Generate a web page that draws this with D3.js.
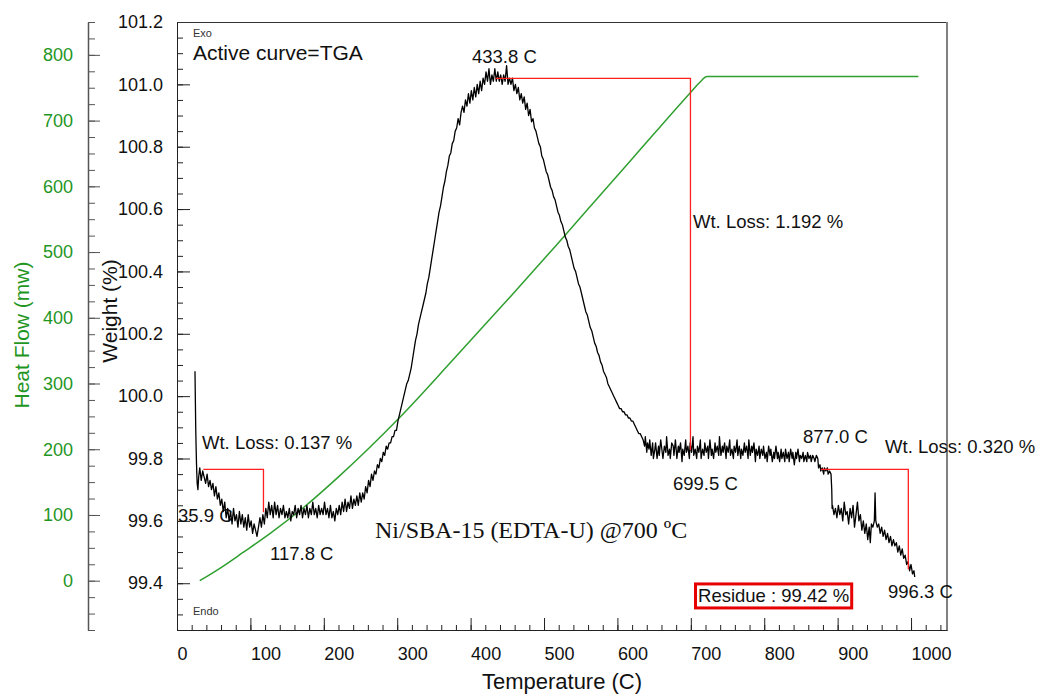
<!DOCTYPE html>
<html><head><meta charset="utf-8">
<script src="https://cdn.jsdelivr.net/npm/d3@7"></script>
<style>
body{margin:0;background:#fff}
</style>
</head><body>
<svg id="c" width="1041" height="696" font-family="'Liberation Sans', Arial, sans-serif"></svg>
<script>
// ---------- data ----------
const tempTicks = [0,100,200,300,400,500,600,700,800,900,1000];
const weightTicks = [99.4,99.6,99.8,100.0,100.2,100.4,100.6,100.8,101.0,101.2];
const heatTicks = [0,100,200,300,400,500,600,700,800];

// TGA weight curve [temperature C, weight %]
const tga = [
[24.5,100.08],[25,99.99],[25.5,99.90],[26,99.84],[26.5,99.79],[27,99.75],[27.5,99.72],[28.5,99.70],[29.5,99.74],[31,99.77],[33,99.73],[35,99.76],
[37,99.74],[39,99.72],[41,99.75],[43,99.71],[45,99.73],[47,99.70],[49,99.72],[51,99.68],[53,99.71],[55,99.67],[57,99.69],[59,99.65],[61,99.67],[63,99.63],[65,99.66],[67,99.61],[69,99.64],[71,99.60],[73,99.63],[75,99.59],[77,99.64],[79,99.60],[81,99.62],[83,99.58],[85,99.63],[87,99.59],[89,99.62],[91,99.58],[93,99.61],[95,99.57],[97,99.62],[99,99.58],[101,99.60],[103,99.56],[105,99.59],[107,99.57],[109,99.55],[111,99.58],[113,99.61],[115,99.58],[117,99.62],[119,99.59],[121,99.64],[123,99.61],[125,99.66],[127,99.62],[129,99.65],[131,99.61],[133,99.66],[135,99.62],[137,99.65],[139,99.61],[141,99.64],[143,99.62],[145,99.65],[147,99.61],[149,99.63],[151,99.61],[153,99.64],[155,99.60],[157,99.63],[159,99.62],[161,99.65],[163,99.61],[165,99.64],[167,99.62],[169,99.65],[171,99.61],[173,99.64],[175,99.62],[177,99.65],[179,99.61],[181,99.64],[183,99.62],[185,99.66],[187,99.62],[189,99.64],[191,99.61],[193,99.65],[195,99.62],[197,99.64],[199,99.62],[201,99.66],[203,99.62],[205,99.64],[207,99.61],[209,99.65],[211,99.61],[213,99.63],[215,99.60],[217,99.64],[219,99.62],[221,99.65],[223,99.62],[225,99.66],[227,99.63],[229,99.67],[231,99.63],[233,99.66],[235,99.64],[237,99.68],[239,99.64],[241,99.67],[243,99.65],[245,99.68],[247,99.65],[249,99.69],[251,99.66],[253,99.69],[255,99.67],[257,99.71],[259,99.69],[261,99.73],[263,99.71],[265,99.75],[267,99.73],[269,99.76],[271,99.75],[273,99.78],[275,99.77],[277,99.80],[279,99.79],[281,99.82],[283,99.81],[285,99.84],[287,99.83],[289,99.85],[291,99.85],[293,99.87],[295,99.87],[297,99.89],[299,99.89],[301,99.92],[303,99.94],[305,99.96],[307,99.98],[309,100.00],[311,100.02],[313,100.04],[315,100.05],[317,100.07],[319,100.09],[321,100.12],
[323,100.15],[325,100.18],[327,100.20],[329,100.23],[331,100.25],[333,100.27],[335,100.29],[337,100.31],[339,100.33],[341,100.36],[343,100.38],[345,100.41],[347,100.44],[349,100.47],[351,100.50],[353,100.53],[355,100.56],[357,100.59],[359,100.61],[361,100.64],[363,100.67],[365,100.69],[367,100.72],[369,100.74],[371,100.77],[373,100.78],[375,100.81],[377,100.82],[379,100.85],[381,100.86],[383,100.89],[385,100.87],[387,100.91],[389,100.93],[391,100.91],[393,100.95],[395,100.93],[397,100.97],[399,100.94],[401,100.98],[403,100.95],[405,100.99],[407,100.96],[409,101.00],[411,100.97],[413,101.01],[415,100.98],[417,101.02],[419,101.00],[421,101.04],[423,101.01],[425,101.05],[427,101.00],[429,101.03],[431,101.01],[433,101.05],[435,101.01],[437,101.04],[439,101.01],[441,101.03],[443,101.00],[445,101.03],[447,101.01],[449,101.06],[451,101.00],[453,101.02],[455,101.00],[457,101.02],[459,100.98],[461,101.00],[463,100.97],[465,100.99],[467,100.95],[469,100.97],[471,100.94],[473,100.96],[475,100.92],[477,100.94],[479,100.90],[481,100.92],[483,100.88],[485,100.89],[487,100.86],[489,100.85],[491,100.83],[493,100.81],[495,100.80],[497,100.77],[499,100.76],[501,100.74],[503,100.72],[505,100.71],[507,100.69],[509,100.67],[511,100.66],[513,100.64],[515,100.63],[517,100.61],[519,100.59],[521,100.58],[523,100.56],[525,100.55],[527,100.53],[529,100.51],[531,100.50],[533,100.48],[535,100.47],[537,100.45],[539,100.43],[541,100.41],[543,100.40],[545,100.38],[547,100.36],[549,100.35],[551,100.33],[553,100.31],[555,100.29],[557,100.27],[559,100.26],[561,100.24],[563,100.22],[565,100.21],[567,100.19],[569,100.17],[571,100.16],[573,100.14],[575,100.13],[577,100.11],[579,100.10],[581,100.08],[583,100.07],[585,100.06],[587,100.04],[589,100.03],[591,100.02],[593,100.01],[595,100.00],[597,99.99],[599,99.98],[601,99.97],[603,99.96],[605,99.96],[607,99.95],[609,99.95],[611,99.94],[613,99.94],[615,99.93],[617,99.93],[619,99.92],[621,99.92],[623,99.91],[625,99.90],[627,99.89],[629,99.88],[631,99.88],[633,99.87],[635,99.86],
[637,99.84],[638,99.87],[640,99.82],[641,99.85],[643,99.83],[644,99.86],[646,99.81],[648,99.85],[649,99.80],[651,99.83],[652,99.85],[654,99.80],[656,99.84],[657,99.81],[659,99.86],[661,99.82],[662,99.80],[664,99.84],[666,99.82],[667,99.87],[669,99.81],[671,99.83],[672,99.80],[674,99.85],[676,99.84],[677,99.81],[679,99.86],[681,99.80],[683,99.84],[684,99.82],[686,99.85],[688,99.79],[689,99.83],[691,99.81],[693,99.86],[694,99.82],[696,99.84],[698,99.80],[699,99.85],[701,99.82],[703,99.87],[704,99.81],[706,99.83],[708,99.80],[709,99.84],[711,99.82],[713,99.86],[714,99.80],[716,99.83],[718,99.81],[719,99.85],[721,99.82],[723,99.84],[724,99.80],[726,99.86],[728,99.81],[729,99.83],[731,99.80],[733,99.85],[734,99.82],[736,99.84],[738,99.81],[739,99.87],[741,99.81],[743,99.84],[744,99.82],[746,99.85],[748,99.80],[749,99.84],[751,99.82],[753,99.86],[754,99.81],[756,99.83],[758,99.80],[759,99.84],[761,99.82],[763,99.86],[764,99.81],[766,99.84],[768,99.80],[769,99.83],[771,99.81],[773,99.85],[774,99.82],[776,99.84],[778,99.80],[779,99.86],[781,99.81],[783,99.84],[784,99.82],[786,99.85],[788,99.79],[789,99.83],[791,99.81],[793,99.84],[794,99.80],[796,99.83],[798,99.81],[799,99.84],[801,99.80],[803,99.82],[804,99.79],[806,99.84],[808,99.81],[809,99.83],[811,99.79],[813,99.82],[814,99.80],[816,99.84],[818,99.80],[819,99.82],[821,99.79],[823,99.83],[824,99.80],[826,99.82],[828,99.79],[829,99.83],[831,99.80],[833,99.82],[834,99.79],[836,99.83],[838,99.80],[839,99.82],[841,99.78],[843,99.82],[844,99.80],[846,99.83],[848,99.79],[849,99.81],[851,99.80],[853,99.82],[854,99.79],[856,99.81],[858,99.79],[859,99.82],[861,99.80],[863,99.81],[864,99.79],[866,99.81],[868,99.80],[869,99.79],[871,99.81],[873,99.80],[874,99.77],[876,99.78],[877,99.76],[879,99.77],[881,99.75],[882,99.77],[884,99.76],[886,99.77],[887,99.75],[889,99.76],[891,99.75],[892,99.70],[892.5,99.64],
[893,99.65],[895,99.62],[897,99.64],[899,99.61],[901,99.65],[903,99.62],[905,99.64],[907,99.60],[909,99.66],[911,99.62],[913,99.63],[915,99.59],[917,99.64],[919,99.61],[921,99.65],[923,99.58],[925,99.62],[927,99.66],[929,99.60],[931,99.62],[933,99.57],[935,99.60],[937,99.56],[939,99.59],[941,99.54],[943,99.58],[944.5,99.53],[946,99.59],[948,99.58],[950,99.60],[951,99.69],[952,99.60],[954,99.58],[956,99.59],[958,99.56],[960,99.58],[962,99.55],[964,99.57],[966,99.54],[968,99.56],[970,99.53],[972,99.55],[974,99.52],[976,99.54],[978,99.52],[980,99.53],[982,99.50],[984,99.52],[986,99.49],[988,99.51],[990,99.48],[992,99.49],[994,99.46],[996,99.47],[998,99.44],[1000,99.46],[1002,99.43],[1004,99.44],[1005,99.42]
];

// Heat flow curve [temperature C, heat flow mW]
const heatFlow = [[31,0],[60,20],[90,43],[127,72],[172,111],[220,158],[260,200],[304,249],[376,336],[450,427],[518,512],[580,591],[621,643],[699,742],[712,758],[722,767],[1010,767]];

// weight-loss step markers
const stepT0 = [35.9, 433.8, 877.0];
const stepT1 = [117.8, 699.5, 996.3];
const stepW0 = [99.765, 101.019, 99.765];
const stepW1 = [99.628, 99.827, 99.445];

// annotation texts and their anchors in data units [temp, weight]
const annoText = ["433.8 C","Wt. Loss: 1.192 %","Wt. Loss: 0.137 %","35.9 C","117.8 C","699.5 C","877.0 C","Wt. Loss: 0.320 %","996.3 C"];
const annoAt = [[401.9,101.068],[703,100.539],[34.1,99.831],[1.4,99.596],[126.7,99.474],[675.7,99.699],[852.9,99.850],[964.6,99.818],[968.7,99.353]];
const sampleName = "Ni/SBA-15 (EDTA-U) @700 ºC";
const sampleAt = [269.8, 99.545];
const residueText = "Residue : 99.42 %";
const residueAt = [709.8, 99.340];

// ---------- drawing ----------
const svg = d3.select("#c");
const x = d3.scaleLinear().domain([0,1049]).range([177,947]);
const yW = d3.scaleLinear().domain([99.25,101.2]).range([630,22]);
const yH = d3.scaleLinear().domain([-75,850]).range([630,22]);

const green = "#1f961f", greenLine = "#2f9f2f", red = "#ff1f1f", ink = "#111";
const sans = "'Liberation Sans', Arial, sans-serif";

function styleAxis(g, color, size){
  g.attr("font-family",sans).attr("font-size",size).attr("color",color);
}

// X axis: minor + major
svg.append("g").attr("transform","translate(0,630)")
  .call(d3.axisBottom(x).tickValues(d3.range(0,1041,20)).tickSizeInner(-5).tickSizeOuter(0).tickFormat(""))
  .call(g=>styleAxis(g,"#222",18));
svg.append("g").attr("transform","translate(0,630)")
  .call(d3.axisBottom(x).tickValues(tempTicks).tickSizeInner(-12).tickSizeOuter(0).tickPadding(17).tickFormat(d3.format("d")))
  .call(g=>styleAxis(g,"#222",18))
  .call(g=>g.selectAll("text").attr("text-anchor","start").attr("fill",ink));

// Weight axis
svg.append("g").attr("transform","translate(177,0)")
  .call(d3.axisLeft(yW).tickValues(d3.range(0,40).map(i=>99.25+i*0.05).filter(v=>v<=101.201)).tickSizeInner(-6).tickSizeOuter(0).tickFormat(""))
  .call(g=>styleAxis(g,"#222",18));
svg.append("g").attr("transform","translate(177,0)")
  .call(d3.axisLeft(yW).tickValues(weightTicks).tickSizeInner(-13).tickSizeOuter(0).tickPadding(14).tickFormat(d3.format(".1f")))
  .call(g=>styleAxis(g,"#222",18))
  .call(g=>g.selectAll("text").attr("fill",ink));

// Heat flow axis
svg.append("g").attr("transform","translate(88,0)")
  .call(d3.axisLeft(yH).tickValues(d3.range(-75,851,25)).tickSizeInner(-7).tickSizeOuter(0).tickFormat(""))
  .call(g=>styleAxis(g,"#555",18))
  .call(g=>g.select(".domain").attr("stroke-width",1.5));
svg.append("g").attr("transform","translate(88,0)")
  .call(d3.axisLeft(yH).tickValues(heatTicks).tickSizeInner(-12).tickSizeOuter(0).tickPadding(15).tickFormat(d3.format("d")))
  .call(g=>styleAxis(g,"#555",18))
  .call(g=>g.select(".domain").remove())
  .call(g=>g.selectAll("text").attr("fill",green));

// frame top and right
svg.append("line").attr("x1",x.range()[0]).attr("x2",x.range()[1]).attr("y1",yW.range()[1]+0.5).attr("y2",yW.range()[1]+0.5).attr("stroke","#333").attr("stroke-width",1.2);
svg.append("line").attr("x1",x.range()[1]).attr("x2",x.range()[1]).attr("y1",yW.range()[1]).attr("y2",yW.range()[0]).attr("stroke","#808080").attr("stroke-width",2);

// axis titles
svg.append("text").attr("x",(x.range()[0]+x.range()[1])/2).attr("y",689).attr("text-anchor","middle").attr("font-size",22).attr("fill",ink).text("Temperature (C)");
svg.append("text").attr("transform","translate(117,311) rotate(-90)").attr("text-anchor","middle").attr("font-size",21).attr("fill",ink).text("Weight (%)");
svg.append("text").attr("transform","translate(29,335) rotate(-90)").attr("text-anchor","middle").attr("font-size",21).attr("fill",green).text("Heat Flow (mw)");

// corner texts
svg.append("text").attr("x",193).attr("y",37).attr("font-size",11).attr("fill","#333").text("Exo");
svg.append("text").attr("x",193).attr("y",615).attr("font-size",11).attr("fill","#333").text("Endo");
svg.append("text").attr("x",193).attr("y",60).attr("font-size",21).attr("fill",ink).text("Active curve=TGA");

// annotations
svg.append("g").selectAll("text").data(annoText).join("text")
  .attr("x",(d,i)=>x(annoAt[i][0])).attr("y",(d,i)=>yW(annoAt[i][1]))
  .attr("font-size",18.5).attr("fill",ink).text(d=>d);
svg.append("text").attr("x",x(sampleAt[0])).attr("y",yW(sampleAt[1]))
  .attr("font-family","'Liberation Serif', 'Times New Roman', serif").attr("font-size",24).attr("fill",ink).text(sampleName);
const rt = svg.append("text").attr("x",x(residueAt[0])).attr("y",yW(residueAt[1])).attr("font-size",18.5).attr("fill",ink).text(residueText);
const bb = rt.node().getBBox();
svg.append("rect").attr("x",bb.x-2.5).attr("y",bb.y-1).attr("width",bb.width+5).attr("height",bb.height+3)
  .attr("fill","none").attr("stroke","#e60000").attr("stroke-width",3);

// heat flow curve
svg.append("path").datum(heatFlow)
  .attr("d",d3.line().x(d=>x(d[0])).y(d=>yH(d[1])).curve(d3.curveMonotoneX))
  .attr("fill","none").attr("stroke",greenLine).attr("stroke-width",1.5);

// TGA curve
svg.append("path").datum(tga)
  .attr("d",d3.line().x(d=>x(d[0])).y(d=>yW(d[1])))
  .attr("fill","none").attr("stroke","#000").attr("stroke-width",1.3).attr("stroke-linejoin","round");

// step markers
svg.append("g").selectAll("path").data(stepT0).join("path")
  .attr("d",(d,i)=>`M${x(stepT0[i])},${yW(stepW0[i])}H${x(stepT1[i])}V${yW(stepW1[i])}`)
  .attr("fill","none").attr("stroke",red).attr("stroke-width",1.3);
</script>
</body></html>
